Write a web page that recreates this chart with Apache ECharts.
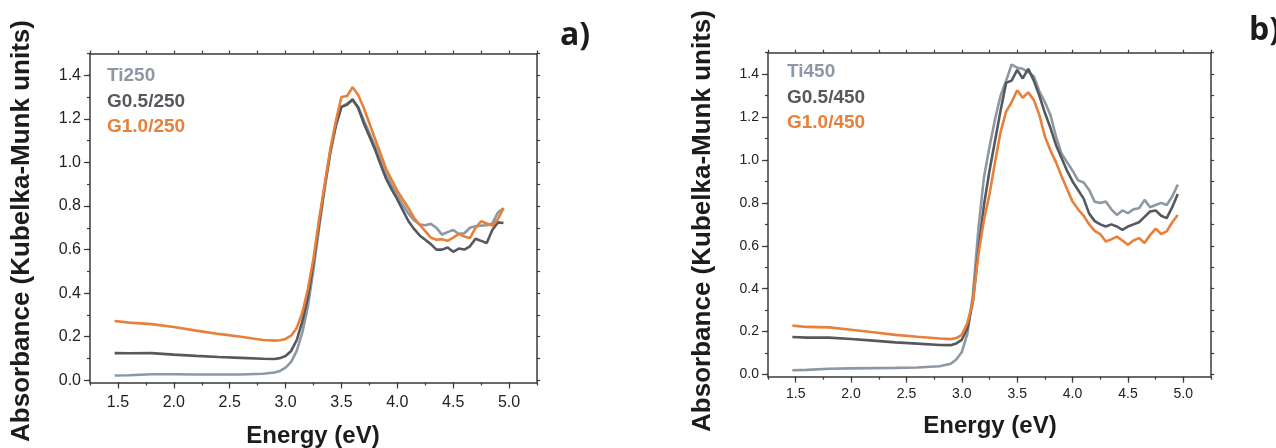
<!DOCTYPE html>
<html><head><meta charset="utf-8">
<script src="https://cdn.jsdelivr.net/npm/echarts@6/dist/echarts.min.js"></script>
<style>html,body{margin:0;padding:0;background:#fff}#c{width:1276px;height:448px}</style>
</head><body><div id="c"></div>
<script>
// ---- data ----
const energy = [1.47,1.6,1.8,2.0,2.2,2.4,2.6,2.8,2.9,2.95,3.0,3.05,3.1,3.15,3.2,3.25,3.3,3.35,3.4,3.45,3.5,3.55,3.6,3.65,3.7,3.75,3.8,3.85,3.9,3.95,4.0,4.05,4.1,4.15,4.2,4.25,4.3,4.35,4.4,4.45,4.5,4.55,4.6,4.65,4.7,4.75,4.8,4.85,4.9,4.95];

const ti250  = [0.022,0.023,0.028,0.028,0.027,0.027,0.027,0.030,0.036,0.043,0.058,0.085,0.135,0.220,0.340,0.510,0.700,0.880,1.040,1.170,1.255,1.270,1.285,1.255,1.195,1.135,1.075,1.010,0.945,0.895,0.850,0.805,0.765,0.735,0.715,0.712,0.718,0.700,0.669,0.680,0.690,0.672,0.675,0.700,0.707,0.710,0.712,0.720,0.770,0.790];
const g05_250 = [0.125,0.124,0.125,0.118,0.112,0.107,0.103,0.099,0.098,0.102,0.112,0.135,0.185,0.270,0.380,0.540,0.720,0.890,1.050,1.170,1.255,1.265,1.290,1.250,1.180,1.120,1.060,0.990,0.925,0.875,0.830,0.780,0.730,0.695,0.665,0.645,0.625,0.600,0.600,0.610,0.590,0.605,0.600,0.615,0.650,0.640,0.630,0.690,0.725,0.722];
const g10_250 = [0.272,0.265,0.258,0.245,0.228,0.213,0.200,0.185,0.182,0.184,0.190,0.205,0.240,0.310,0.420,0.560,0.740,0.900,1.060,1.190,1.300,1.305,1.345,1.310,1.250,1.180,1.110,1.040,0.970,0.920,0.870,0.830,0.790,0.745,0.715,0.685,0.655,0.645,0.648,0.640,0.655,0.672,0.660,0.653,0.700,0.730,0.720,0.710,0.740,0.790];

const ti450  = [0.020,0.022,0.027,0.029,0.030,0.031,0.033,0.039,0.050,0.070,0.105,0.190,0.370,0.680,0.920,1.060,1.190,1.300,1.370,1.445,1.430,1.425,1.410,1.390,1.320,1.270,1.210,1.110,1.030,0.990,0.950,0.905,0.895,0.860,0.805,0.800,0.806,0.770,0.744,0.765,0.752,0.770,0.775,0.814,0.780,0.790,0.800,0.790,0.830,0.885];
const g05_450 = [0.175,0.172,0.172,0.166,0.158,0.150,0.144,0.138,0.137,0.145,0.162,0.215,0.340,0.580,0.790,0.950,1.090,1.230,1.360,1.370,1.420,1.380,1.425,1.370,1.300,1.220,1.150,1.070,1.010,0.950,0.900,0.860,0.820,0.750,0.715,0.700,0.690,0.700,0.690,0.674,0.690,0.700,0.710,0.735,0.760,0.765,0.740,0.729,0.780,0.842];
const g10_450 = [0.228,0.222,0.220,0.209,0.197,0.185,0.176,0.168,0.165,0.170,0.185,0.240,0.340,0.560,0.720,0.840,0.990,1.130,1.225,1.270,1.325,1.290,1.315,1.280,1.210,1.110,1.045,0.990,0.925,0.865,0.806,0.770,0.740,0.700,0.670,0.655,0.620,0.630,0.643,0.625,0.605,0.625,0.636,0.613,0.650,0.680,0.655,0.667,0.710,0.744];

const xMajor = [1.5,2.0,2.5,3.0,3.5,4.0,4.5,5.0];
const xMinor = [1.25,1.5,1.75,2.0,2.25,2.5,2.75,3.0,3.25,3.5,3.75,4.0,4.25,4.5,4.75,5.0,5.25];
const yMajor = [0.0,0.2,0.4,0.6,0.8,1.0,1.2,1.4];
const yMinor = [0.0,0.1,0.2,0.3,0.4,0.5,0.6,0.7,0.8,0.9,1.0,1.1,1.2,1.3,1.4,1.5];

const namesA = ['Ti250','G0.5/250','G1.0/250'];
const namesB = ['Ti450','G0.5/450','G1.0/450'];

// ---- styles ----
const C_TI = '#8d98a5', C_G05 = '#55585d', C_G10 = '#e8803a';
const AX = '#3a3a3a';
const FONT = '"Liberation Sans", Arial, sans-serif';

function pairs(ys){ return energy.map((e,i)=>[e, ys[i]]); }

function makeAxes(g, labelSize, xMargin, yMargin){
  const lineStyle = {color: AX, width: 1.5};
  const xs = [
    {type:'value', gridIndex:g, position:'bottom', min:1.25, max:5.25,
      axisLine:{show:true,onZero:false,lineStyle},
      axisTick:{show:true,length:6,customValues:xMajor,lineStyle:{color:AX,width:1.2}},
      axisLabel:{show:true,customValues:xMajor,formatter:v=>v.toFixed(1),fontSize:labelSize,color:'#222',fontFamily:FONT,margin:xMargin},
      splitLine:{show:false}},
    {type:'value', gridIndex:g, position:'bottom', min:1.25, max:5.25,
      axisLine:{show:false,onZero:false},
      axisTick:{show:true,length:3,customValues:xMinor,lineStyle:{color:AX,width:1.2}},
      axisLabel:{show:false}, splitLine:{show:false}},
    {type:'value', gridIndex:g, position:'top', min:1.25, max:5.25,
      axisLine:{show:true,onZero:false,lineStyle},
      axisTick:{show:true,length:3,customValues:xMinor,lineStyle:{color:AX,width:1.2}},
      axisLabel:{show:false}, splitLine:{show:false}}
  ];
  const ys = [
    {type:'value', gridIndex:g, position:'left', min:-0.01, max:1.5,
      axisLine:{show:true,onZero:false,lineStyle},
      axisTick:{show:true,length:6,customValues:yMajor,lineStyle:{color:AX,width:1.2}},
      axisLabel:{show:true,customValues:yMajor,formatter:v=>v.toFixed(1),fontSize:labelSize,color:'#222',fontFamily:FONT,margin:yMargin},
      splitLine:{show:false}},
    {type:'value', gridIndex:g, position:'left', min:-0.01, max:1.5,
      axisLine:{show:false,onZero:false},
      axisTick:{show:true,length:3,customValues:yMinor,lineStyle:{color:AX,width:1.2}},
      axisLabel:{show:false}, splitLine:{show:false}},
    {type:'value', gridIndex:g, position:'right', min:-0.01, max:1.5,
      axisLine:{show:true,onZero:false,lineStyle},
      axisTick:{show:true,length:3,customValues:yMinor,lineStyle:{color:AX,width:1.2}},
      axisLabel:{show:false}, splitLine:{show:false}}
  ];
  return {xs, ys};
}

const A = makeAxes(0, 16, 12, 9);
const B = makeAxes(1, 14, 10, 9);

function line(name, ys, color, xi, yi){
  return {type:'line', name, data:pairs(ys), xAxisIndex:xi, yAxisIndex:yi,
    showSymbol:false, symbol:'none', smooth:false, animation:false,
    lineStyle:{color, width:2.6}, itemStyle:{color}};
}

function legend(names, left, top){
  const cols = [C_TI, C_G05, C_G10];
  return {orient:'vertical', left, top, itemWidth:0, itemHeight:0, itemGap:0, icon:'rect',
    selectedMode:false,
    textStyle:{fontSize:19, fontWeight:'bold', fontFamily:FONT, lineHeight:25.6},
    data: names.map((n,i)=>({name:n, textStyle:{color:cols[i]}}))};
}

function txt(text, x, y, size, rot, align, valign, family){
  return {type:'text', x, y, rotation:rot||0, silent:true,
    style:{text, font:'bold '+size+'px '+(family||FONT), fill:'#1c1c1c',
      textAlign:align||'center', textVerticalAlign:valign||'middle'}};
}

const chart = echarts.init(document.getElementById('c'), null, {renderer:'canvas'});
chart.setOption({
  animation:false,
  backgroundColor:'#fff',
  grid:[
    {left:90, top:53.5, width:447, height:329, containLabel:false},
    {left:768, top:52.7, width:443, height:324, containLabel:false}
  ],
  xAxis:[...A.xs, ...B.xs],
  yAxis:[...A.ys, ...B.ys],
  legend:[legend(namesA, 97, 58), legend(namesB, 777, 54)],
  series:[
    line(namesA[0], ti250, C_TI, 0, 0),
    line(namesA[1], g05_250, C_G05, 0, 0),
    line(namesA[2], g10_250, C_G10, 0, 0),
    line(namesB[0], ti450, C_TI, 3, 3),
    line(namesB[1], g05_450, C_G05, 3, 3),
    line(namesB[2], g10_450, C_G10, 3, 3)
  ],
  graphic:[
    txt('Absorbance (Kubelka-Munk units)', 22, 231, 26, Math.PI/2),
    txt('Absorbance (Kubelka-Munk units)', 703, 221, 26, Math.PI/2),
    txt('Energy (eV)', 313, 436, 24),
    txt('Energy (eV)', 990, 426, 24),
    txt('a)', 560, 52, 32, 0, 'left', 'bottom', '"Open Sans", sans-serif'),
    txt('b)', 1249, 47, 32, 0, 'left', 'bottom', '"Open Sans", sans-serif')
  ]
});
</script>
</body></html>
